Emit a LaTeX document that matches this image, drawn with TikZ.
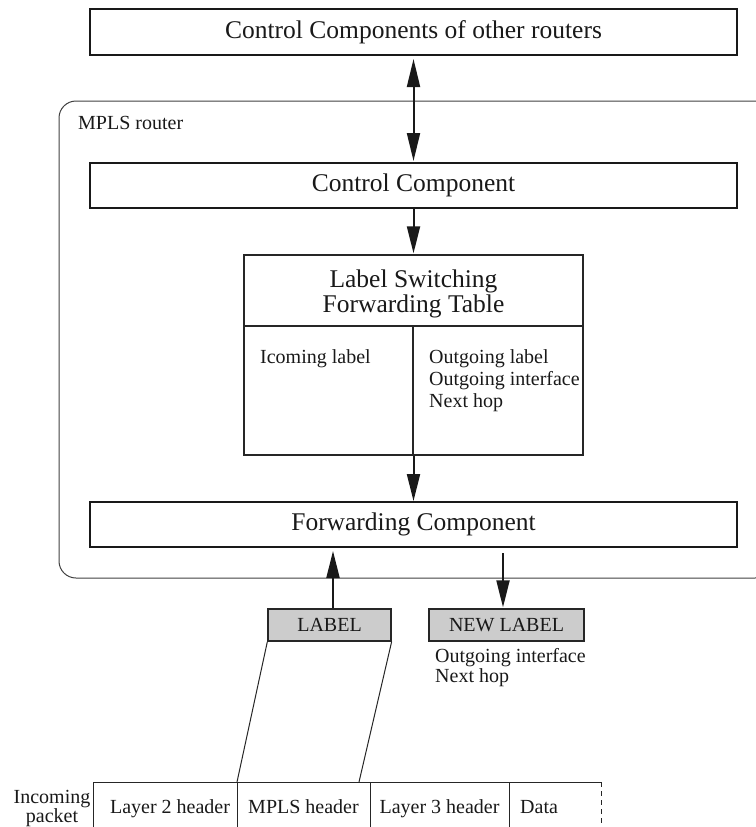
\documentclass[tikz,border=0pt]{standalone}
\usepackage{fontspec}
\setmainfont{Liberation Serif}
\usetikzlibrary{arrows.meta}
\begin{document}
\begin{tikzpicture}[x=1pt,y=-1pt,
  big/.style={font=\fontsize{25.5}{30}\selectfont},
  small/.style={font=\fontsize{20}{22}\selectfont},
  compbox/.style={draw=black!90, line width=2pt, minimum width=647pt,
    minimum height=45pt, inner sep=0pt, big, text=black!90},
  tagbox/.style={draw=black!85, line width=1.3pt, fill=gray!40,
    minimum height=32pt, inner sep=0pt, small, text=black!90},
  txt/.style={inner sep=0pt, small, text=black!90},
  hdrtxt/.style={inner sep=0pt, big, text=black!90},
  arr/.style={line width=2pt, draw=black!90,
    -{Triangle[length=27pt,width=13pt]}},
  dblarr/.style={line width=2pt, draw=black!90,
    {Triangle[length=28pt,width=13pt]}-{Triangle[length=28pt,width=13pt]}},
  thin/.style={line width=1pt, draw=black!85},
]
\useasboundingbox (0,0) rectangle (755,827);

% control plane of the neighbours
\node[compbox, minimum height=46pt] (others) at (413.5,32) {Control Components of other routers};

% router enclosure
\draw[rounded corners=17pt, line width=1pt, draw=black!75] (59,101) rectangle (772,578);
\node[txt, anchor=base west] (mpls) at (78,129) {MPLS router};

\node[compbox] (ctrl) at (413.5,185.5) {Control Component};

% label switching forwarding table
\node[draw=black!85, line width=1.3pt, minimum width=339pt, minimum height=200pt,
      inner sep=0pt] (lsft) at (413.5,355) {};
\coordinate (hd) at (413,326);
\draw[line width=1.3pt, draw=black!85] (lsft.west |- hd) -- (lsft.east |- hd);
\draw[line width=1.3pt, draw=black!85] (hd) -- (hd |- lsft.south);
\node[hdrtxt, anchor=base] (t1) at (413.5,287) {Label Switching};
\node[hdrtxt, anchor=base] (t2) at (413.5,312) {Forwarding Table};
\node[txt, anchor=base west] (inl) at (260,363) {Icoming label};
\node[txt, anchor=base west] (outl) at (429,363) {Outgoing label};
\node[txt, anchor=base west] (outi) at (429,385) {Outgoing interface};
\node[txt, anchor=base west] (outn) at (429,407) {Next hop};

\node[compbox] (fwd) at (413.5,524.5) {Forwarding Component};

% labels in and out
\node[tagbox, minimum width=123pt] (lbl) at (329.5,625) {LABEL};
\node[tagbox, minimum width=155pt] (nlbl) at (506.5,625) {NEW LABEL};
\node[txt, anchor=base west] (nli) at (435,662) {Outgoing interface};
\node[txt, anchor=base west] (nlh) at (435,682) {Next hop};

% connectors
\draw[dblarr, shorten <=3pt, shorten >=1pt] (others) -- (ctrl);
\draw[arr, shorten >=1pt] (ctrl) -- (lsft);
\draw[arr] (lsft) -- (fwd);
\coordinate (upx) at (333,0);
\coordinate (dnx) at (503,0);
\draw[arr, shorten >=3pt] (lbl.north -| upx) -- (fwd.south -| upx);
\draw[arr, shorten <=5pt, shorten >=1pt] (fwd.south -| dnx) -- (nlbl.north -| dnx);

% incoming packet
\coordinate (p0) at (93,782);
\coordinate (p1) at (237,782);
\coordinate (p2) at (370,782);
\coordinate (p3) at (509,782);
\coordinate (p4) at (601,782);
\coordinate (pm) at (359,782);
\draw[thin] (p0) -- (p4);
\draw[thin] (p0) -- ++(0,55);
\draw[thin] (p1) -- ++(0,55);
\draw[thin] (p2) -- ++(0,55);
\draw[thin] (p3) -- ++(0,55);
\draw[thin, dash pattern=on 5pt off 4pt] (p4) -- ++(0,55);
\draw[thin] (lbl.south west) -- (p1);
\draw[thin] (lbl.south east) -- (pm);

\node[txt, anchor=base] (c1) at (170,813) {Layer 2 header};
\node[txt, anchor=base] (c2) at (303.5,813) {MPLS header};
\node[txt, anchor=base] (c3) at (439.5,813) {Layer 3 header};
\node[txt, anchor=base west] (c4) at (520,813) {Data};
\node[txt, anchor=base] (in1) at (52,803) {Incoming};
\node[txt, anchor=base] (in2) at (52,822) {packet};
\end{tikzpicture}
\end{document}
